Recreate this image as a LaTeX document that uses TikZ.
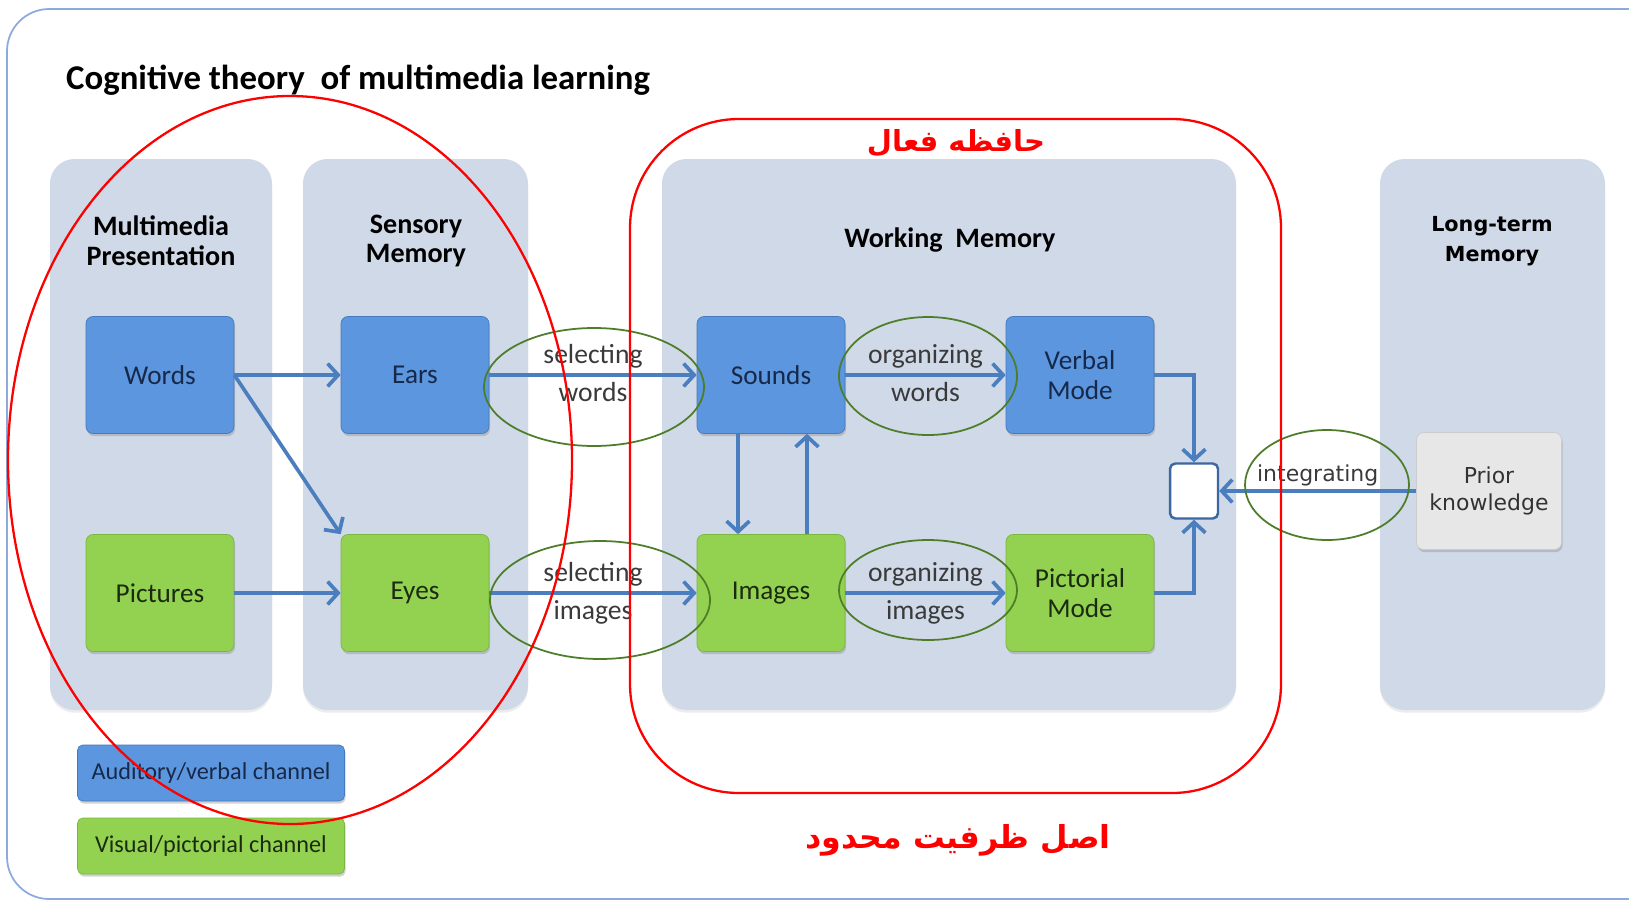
\documentclass[tikz,border=0pt]{standalone}
\usepackage{fontspec}
\setmainfont{Carlito}
\newfontfamily\widesans{DejaVu Sans}
\newfontfamily\arabicfont[Script=Arabic]{DejaVu Sans}
\TeXXeTstate=1
\usetikzlibrary{positioning,arrows.meta,shadows}

\definecolor{framecol}{HTML}{8EAADB}
\definecolor{panelcol}{HTML}{D0D9E7}
\definecolor{bluefill}{HTML}{5B96DE}
\definecolor{blueedge}{HTML}{4679BE}
\definecolor{bluetext}{HTML}{17294A}
\definecolor{greenfill}{HTML}{93D250}
\definecolor{greenedge}{HTML}{7BB640}
\definecolor{greentext}{HTML}{1C2A12}
\definecolor{priorfill}{HTML}{E7E7E7}
\definecolor{arrowcol}{HTML}{4A7EBF}
\definecolor{ringcol}{HTML}{4E7D2A}
\definecolor{labelcol}{HTML}{3A3A3A}

\tikzset{
  panel/.style={fill=panelcol, rounded corners=14pt,
    drop shadow={opacity=0.15, shadow xshift=0pt, shadow yshift=-1.5pt}},
  head/.style={font=\bfseries\fontsize{16}{17}\selectfont, align=center},
  box/.style={rounded corners=4pt, minimum width=2.96cm, minimum height=2.34cm,
    align=center, font=\fontsize{15.5}{17}\selectfont,
    drop shadow={opacity=0.35, shadow xshift=0.6pt, shadow yshift=-1.5pt}},
  bluebox/.style={box, draw=blueedge, fill=bluefill, text=bluetext},
  greenbox/.style={box, draw=greenedge, fill=greenfill, text=greentext},
  priorbox/.style={box, draw=gray!40, fill=priorfill, text=black!80,
    minimum width=2.9cm, font=\widesans\fontsize{12.5}{15}\selectfont},
  legend/.style={minimum width=5.34cm, minimum height=1.12cm, rounded corners=3pt,
    font=\fontsize{13.8}{15}\selectfont},
  joinbox/.style={draw=blueedge!85!black, line width=1.4pt, fill=white, rounded corners=3pt,
    minimum width=0.96cm, minimum height=1.1cm},
  flow/.style={draw=arrowcol, line width=2.1pt, -{Straight Barb[length=6pt,width=13pt]}},
  lbl/.style={text=labelcol, font=\fontsize{15.7}{17}\selectfont, inner sep=1pt},
  ring/.style={draw=ringcol, line width=1pt},
  redmark/.style={draw=red, line width=1.3pt},
  arab/.style={text=red, font=\arabicfont\bfseries\fontsize{18}{22}\selectfont}
}

\begin{document}
\begin{tikzpicture}[x=0.02cm, y=-0.02cm]
\useasboundingbox (0,0) rectangle (1629,903);
\fill[white] (0,0) rectangle (1629,903);
\begin{scope}
\clip (0,0) rectangle (1629,903);
\draw[framecol, line width=1pt, rounded corners=24pt] (7,9) rectangle (1670,899);
\end{scope}

% title
\node[anchor=west, font=\bfseries\fontsize{19.8}{22}\selectfont] (title) at (60,80)
  {Cognitive theory~~of multimedia learning};

% the four stores
\fill[panel] (50,159) rectangle (272,710);
\fill[panel] (303,159) rectangle (528,710);
\fill[panel] (662,159) rectangle (1236,710);
\fill[panel] (1380,159) rectangle (1605,710);
\node[head] (mphead) at (161,241) {Multimedia\\Presentation};
\node[head] (smhead) at (416,241) {Sensory\\Memory};
\node[head] (wmhead) at (950,240) {Working~~Memory};
\node[head, font=\widesans\bfseries\fontsize{11.8}{17}\selectfont] (ltmhead) at (1492,241) {Long-term\\Memory};

% boxes
\node[bluebox] (words) at (160,375) {Words};
\node[bluebox] (ears) at (415,375) {Ears};
\node[greenbox] (pictures) at (160,593) {Pictures};
\node[greenbox] (eyes) at (415,593) {Eyes};
\node[bluebox] (sounds) at (771,375) {Sounds};
\node[greenbox] (images) at (771,593) {Images};
\node[bluebox] (verbal) at (1080,375) {Verbal\\Mode};
\node[greenbox] (pictorial) at (1080,593) {Pictorial\\Mode};
\node[joinbox] (join) at (1194,491) {};
\node[priorbox] (prior) at (1489,491) {Prior\\knowledge};

% legend
\node[bluebox, legend] (legaud) at (211,773) {Auditory/verbal channel};
\node[greenbox, legend] (legvis) at (211,846) {Visual/pictorial channel};

% arrows
\draw[flow] (words) -- (ears);
\draw[flow] (words.east) -- (eyes.north west);
\draw[flow] (pictures) -- (eyes);
\draw[flow] (ears) -- node[lbl, above=2pt] (selw1) {selecting} node[lbl, below=2pt] (selw2) {words} (sounds);
\draw[flow] (eyes) -- node[lbl, above=2pt] (seli1) {selecting} node[lbl, below=2pt] (seli2) {images} (images);
\draw[flow] (sounds) -- node[lbl, above=2pt] (orgw1) {organizing} node[lbl, below=2pt] (orgw2) {words} (verbal);
\draw[flow] (images) -- node[lbl, above=2pt] (orgi1) {organizing} node[lbl, below=2pt] (orgi2) {images} (pictorial);
\draw[flow] ([xshift=-0.66cm]sounds.south) -- ([xshift=-0.66cm]images.north);
\draw[flow] ([xshift=0.72cm]images.north) -- ([xshift=0.72cm]sounds.south);
\draw[flow] (verbal.east) -| (join.north);
\draw[flow] (pictorial.east) -| (join.south);
\draw[flow] (prior) -- node[lbl, above=1pt, font=\widesans\fontsize{12.5}{15}\selectfont] (integ) {integrating} (join);

% green rings round the processes
\draw[ring] (594,387) ellipse [x radius=110, y radius=59];
\draw[ring] (600,600) ellipse [x radius=110, y radius=59];
\draw[ring] (928,376) ellipse [x radius=89, y radius=59];
\draw[ring] (928,590) ellipse [x radius=89, y radius=50];
\draw[ring] (1327,485) ellipse [x radius=82, y radius=55];

% red marks
\draw[redmark] (290,460) ellipse [x radius=282, y radius=364];
\draw[redmark, rounded corners=62pt] (630,119) rectangle (1281,793);
\node[arab, font=\arabicfont\bfseries\fontsize{16.5}{20}\selectfont] (wmfa) at (956,143) {\beginR حافظه فعال\endR};
\node[arab] (capfa) at (958,840) {\beginR اصل ظرفیت محدود\endR};
\end{tikzpicture}
\end{document}
